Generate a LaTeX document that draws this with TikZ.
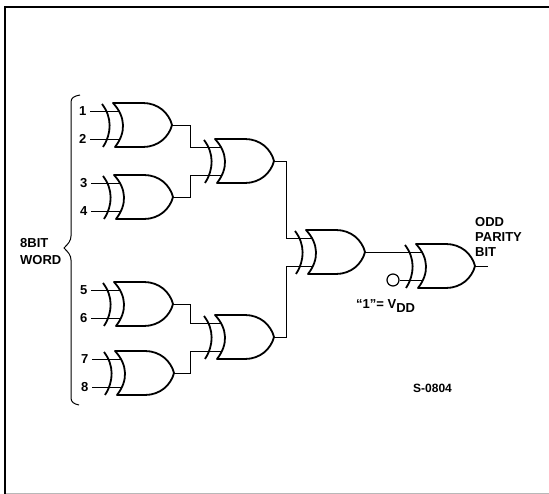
\documentclass[tikz,border=0pt]{standalone}
\usepackage{fontspec}
\setmainfont{Liberation Sans}
\usetikzlibrary{positioning}
\definecolor{edgegray}{gray}{0.72}
\tikzset{%
	wire/.style={line width=.9pt},
	gateline/.style={line width=1.8pt, line join=round},
	pinlabel/.style={font=\bfseries\fontsize{13}{14}\selectfont, inner sep=3.5pt},
	textlabel/.style={font=\bfseries\fontsize{13}{15}\selectfont, inner sep=0pt, align=left},
	xorgate/.pic={%
		\draw[gateline] (-13,-21) .. controls (-3,-8) and (-3,8) .. (-12,22);
		\draw[gateline] (-2,-22) -- (28,-22) .. controls (43,-22) and (54,-12) .. (57,0)
			.. controls (54,12) and (43,22) .. (28,22) -- (0,22)
			.. controls (11,8) and (11,-8) .. (-2,-22) -- cycle;
		\coordinate (-a) at (5,-14);
		\coordinate (-b) at (5,14);
		\coordinate (-o) at (57,0);
	},
}
\begin{document}
\begin{tikzpicture}[x=1pt, y=-1pt]
	\useasboundingbox (0,0) rectangle (549,494);
	% ------- frame -------
	\draw[line width=2.5pt] (5,494) -- (5,7) -- (549,7);
	\draw[edgegray, line width=1.2pt] (6,493.4) -- (549,493.4);

	% ------- gates -------
	\pic (g1) at (115,125) {xorgate};
	\pic (g2) at (116,197) {xorgate};
	\pic (g3) at (217,161) {xorgate};
	\pic (g4) at (116,304) {xorgate};
	\pic (g5) at (117,373) {xorgate};
	\pic (g6) at (217,337) {xorgate};
	\pic (g7) at (308,252) {xorgate};
	\pic (g8) at (418,266) {xorgate};

	% ------- inputs -------
	\foreach \gate/\pin/\num in {g1/a/1, g1/b/2, g2/a/3, g2/b/4, g4/a/5, g4/b/6, g5/a/7, g5/b/8} {
		\node[pinlabel, left=30pt of \gate-\pin] (n\num) {\num};
		\draw[wire] (n\num) -- (\gate-\pin);
	}

	% ------- connections -------
	\draw[wire] (g1-o) -| (190,147) -- (g3-a);
	\draw[wire] (g2-o) -| (190,175) -- (g3-b);
	\draw[wire] (g4-o) -| (190,323) -- (g6-a);
	\draw[wire] (g5-o) -| (190,351) -- (g6-b);
	\draw[wire] (g3-o) -| (286,238) -- (g7-a);
	\draw[wire] (g6-o) -| (286,266) -- (g7-b);
	\draw[wire] (g7-o) -| (g8-a);
	\node[circle, draw, line width=1.2pt, minimum size=12pt, inner sep=0pt] (vdd) at (393,280) {};
	\draw[wire] (vdd) -- (g8-b);
	\coordinate (out) at (488,266);
	\draw[wire] (g8-o) -- (out);

	% ------- brace -------
	\draw[line width=1pt] (80,95) .. controls (74,96) and (71,98) .. (71,102) -- (71,236)
		.. controls (71,241) and (68,244) .. (64,248)
		.. controls (68,252) and (71,255) .. (71,260) -- (71,398)
		.. controls (71,402) and (74,404) .. (79,405);

	% ------- labels -------
	\node[textlabel, anchor=west] (word) at (20,252) {8BIT\\[2pt]WORD};
	\node[textlabel, anchor=west] (parity) at (475,237) {ODD\\PARITY\\BIT};
	\node[textlabel, anchor=west] (one) at (356,306) {``1''= V\raisebox{-4pt}{DD}};
	\node[textlabel, anchor=west, font=\bfseries\fontsize{12}{15}\selectfont] (code) at (413,388) {S-0804};
\end{tikzpicture}
\end{document}
